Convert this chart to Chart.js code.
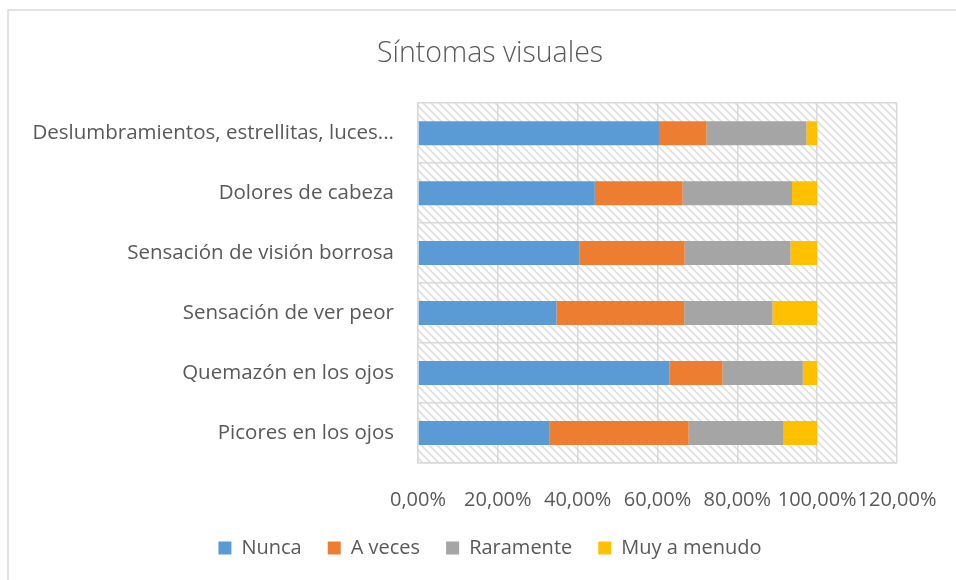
<!DOCTYPE html>
<html>
<head>
<meta charset="utf-8">
<script src="https://cdn.jsdelivr.net/npm/chart.js@4.4.0/dist/chart.umd.min.js"></script>
<style>
html,body{margin:0;padding:0;background:#fff;overflow:hidden;}
#wrap{position:relative;width:956px;height:580px;overflow:hidden;}
</style>
</head>
<body>
<div id="wrap"><canvas id="c" width="980" height="580"></canvas></div>
<script>
const categories = [
  "Deslumbramientos, estrellitas, luces...",
  "Dolores de cabeza",
  "Sensación de visión borrosa",
  "Sensación de ver peor",
  "Quemazón en los ojos",
  "Picores en los ojos"
];
const nunca = [60.6, 44.3, 40.4, 34.7, 63.0, 33.0];
const aVeces = [11.7, 22.0, 26.4, 32.0, 13.3, 34.8];
const raramente = [25.0, 27.4, 26.5, 22.1, 20.1, 23.8];
const muyAMenudo = [2.7, 6.3, 6.7, 11.2, 3.6, 8.4];
const seriesNames = ["Nunca", "A veces", "Raramente", "Muy a menudo"];
const seriesColors = ["#5b9bd5", "#ed7d31", "#a5a5a5", "#ffc000"];
const xMin = 0, xMax = 120, xStep = 20;

const FONT = "'Open Sans', 'Noto Sans', sans-serif";
const TXT = "#595959";

function makeHatch(ctx) {
  const s = 8;
  const pc = document.createElement('canvas');
  pc.width = s; pc.height = s;
  const p = pc.getContext('2d');
  p.fillStyle = '#ffffff';
  p.fillRect(0, 0, s, s);
  p.strokeStyle = '#e0e0e0';
  p.lineWidth = 1.8;
  p.beginPath();
  p.moveTo(-1, -1); p.lineTo(s + 1, s + 1);
  p.moveTo(-1, s - 1); p.lineTo(1, s + 1);
  p.moveTo(s - 1, -1); p.lineTo(s + 1, 1);
  p.stroke();
  return ctx.createPattern(pc, 'repeat');
}

const bgPlugin = {
  id: 'bgPlugin',
  beforeDraw(chart) {
    const ctx = chart.ctx;
    const a = chart.chartArea;
    ctx.save();
    ctx.fillStyle = '#ffffff';
    ctx.fillRect(0, 0, chart.width, chart.height);
    ctx.strokeStyle = '#d9d9d9';
    ctx.lineWidth = 1.5;
    ctx.strokeRect(8, 10, chart.width + 50, chart.height + 50);
    ctx.fillStyle = makeHatch(ctx);
    ctx.fillRect(a.left, a.top, a.right - a.left, a.bottom - a.top);
    ctx.restore();
  }
};

const datasets = [nunca, aVeces, raramente, muyAMenudo].map((d, i) => ({
  label: seriesNames[i],
  data: d,
  backgroundColor: seriesColors[i],
  borderWidth: 0,
  barPercentage: 0.4,
  categoryPercentage: 1.0
}));

new Chart(document.getElementById('c'), {
  type: 'bar',
  data: { labels: categories, datasets },
  options: {
    indexAxis: 'y',
    responsive: false,
    animation: false,
    devicePixelRatio: 1,
    layout: { padding: { left: 0, right: 0, top: 0, bottom: 12 } },
    plugins: {
      title: {
        display: true,
        text: 'Síntomas visuales',
        color: TXT,
        font: { family: FONT, size: 28.5, weight: '300' },
        padding: { top: 37, bottom: 32 }
      },
      legend: {
        position: 'bottom',
        labels: {
          color: TXT,
          font: { family: FONT, size: 20 },
          boxWidth: 13, boxHeight: 13,
          padding: 26
        }
      },
      tooltip: { enabled: false }
    },
    scales: {
      x: {
        stacked: true,
        min: xMin, max: xMax,
        ticks: {
          stepSize: xStep,
          color: TXT,
          padding: 0,
          autoSkip: false,
          maxRotation: 0,
          minRotation: 0,
          font: { family: FONT, size: 20 },
          callback: v => v.toFixed(2).replace('.', ',') + '%'
        },
        grid: { color: '#d9d9d9', lineWidth: 1.5, drawTicks: true, tickLength: 25, tickColor: 'rgba(0,0,0,0)' },
        border: { color: '#d9d9d9', width: 1.5 }
      },
      y: {
        stacked: true,
        afterFit: s => { s.width = 418; },
        ticks: {
          color: TXT,
          padding: 24,
          font: { family: FONT, size: 20.5 }
        },
        grid: { color: '#d9d9d9', lineWidth: 1.5, drawTicks: false, offset: true },
        border: { color: '#d9d9d9', width: 1.5 }
      },
      yRight: {
        type: 'category',
        position: 'right',
        display: true,
        afterFit: s => { s.width = 83; },
        ticks: { display: false },
        grid: { display: false },
        border: { display: false }
      }
    }
  },
  plugins: [bgPlugin]
});
</script>
</body>
</html>
